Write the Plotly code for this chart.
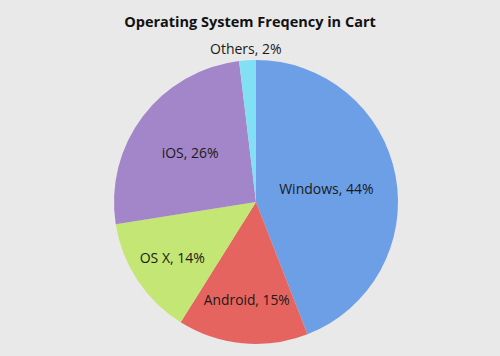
import plotly.graph_objects as go

labels = ["Windows", "Android", "OS X", "iOS", "Others"]
values = [44.1, 14.8, 13.6, 25.6, 1.9]
colors = ["#6d9fe6", "#e6645f", "#c3e674", "#a386ca", "#82e0f4"]
positions = ["inside", "inside", "inside", "inside", "none"]

W, H = 500, 356
total = sum(values)
fig = go.Figure(go.Pie(
    labels=labels,
    values=values,
    sort=False,
    direction="clockwise",
    rotation=0,
    marker=dict(colors=colors, line=dict(width=0)),
    texttemplate="%{label}, %{percent:.0%}",
    textposition=positions,
    insidetextorientation="horizontal",
    textfont=dict(family="Open Sans", size=14, color="#1a1a1a"),
    hoverinfo="label+percent",
    showlegend=False,
    domain=dict(x=[114 / W, 398 / W], y=[1 - 344 / H, 1 - 60 / H]),
))
# label for the tiny slice, placed above the pie like the original
fig.add_annotation(
    text=f"{labels[4]}, {round(100 * values[4] / total)}%",
    x=246 / W, y=1 - 48 / H, xref="paper", yref="paper",
    xanchor="center", yanchor="middle", showarrow=False,
    font=dict(family="Open Sans", size=14, color="#1a1a1a"),
)
fig.update_layout(
    width=W, height=H,
    margin=dict(l=0, r=0, t=0, b=0),
    paper_bgcolor="#e9e9e9",
    plot_bgcolor="#e9e9e9",
    title=dict(text="<b>Operating System Freqency in Cart</b>", x=0.5, xanchor="center",
               y=1 - 22 / H, yanchor="middle",
               font=dict(family="Open Sans", size=14.5, color="#111111")),
)
fig.write_html("out.html", config={"displayModeBar": False},
               post_script="document.body.style.margin='0';document.body.style.background='#e9e9e9';")
